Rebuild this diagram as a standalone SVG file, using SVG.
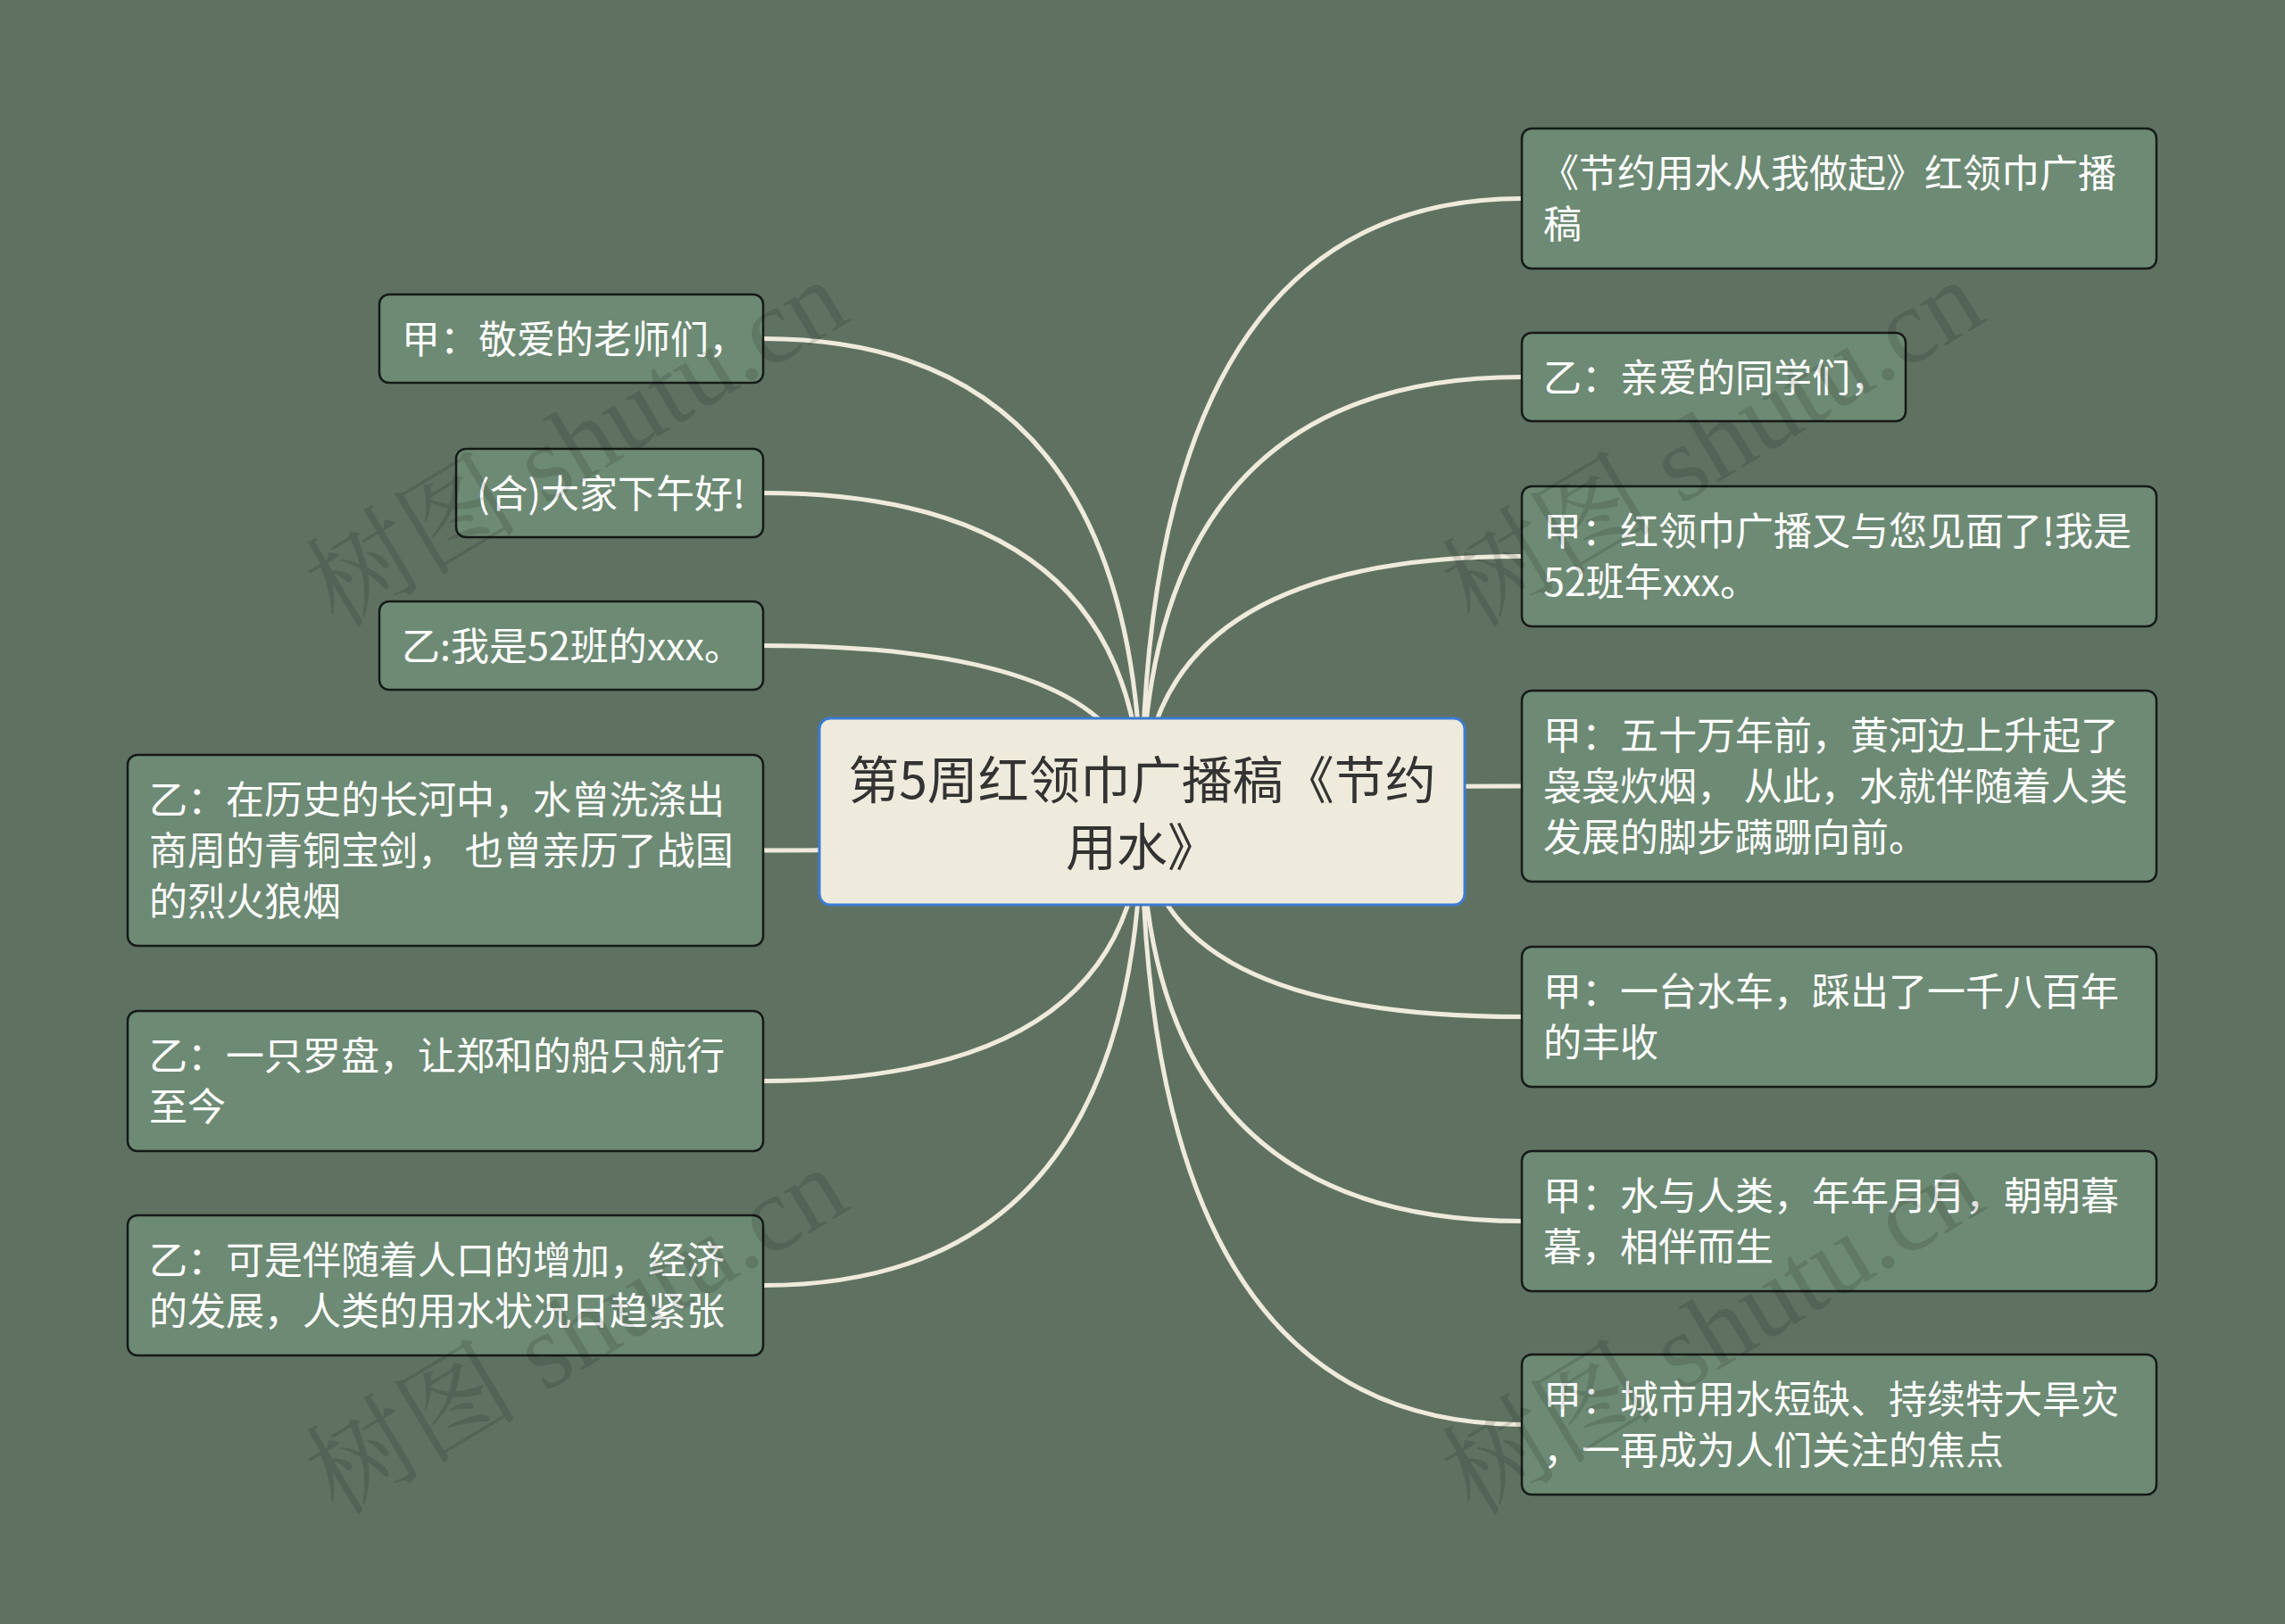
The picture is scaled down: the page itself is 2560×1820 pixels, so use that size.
<svg xmlns="http://www.w3.org/2000/svg" width="2560" height="1820" viewBox="0 0 2560 1820">
<style>
.bg{fill:#5f7262}
.n{fill:#6d8a74;stroke:#161a17;stroke-width:2.5}
.c{fill:#efebdc;stroke:#3d7ad2;stroke-width:3}
.t{font-family:"Noto Sans CJK SC","Noto Sans",sans-serif;font-size:43px;fill:#ffffff}
.ct{font-family:"Noto Sans CJK SC","Noto Sans",sans-serif;font-size:57px;fill:#333333;text-anchor:middle}
.e{fill:none;stroke:#efeadb;stroke-width:5;stroke-linecap:round}
.wm{font-family:"Liberation Serif","Noto Serif CJK SC","Noto Sans CJK SC",serif;font-size:120px;fill:#000000;fill-opacity:0.12}
</style>
<rect class="bg" x="0" y="0" width="2560" height="1820"/>
<g id="connectors">
<path class="e" d="M1279 910 Q1279 379.5 855 379.5"/>
<path class="e" d="M1279 910 Q1279 552.5 855 552.5"/>
<path class="e" d="M1279 910 Q1279 723.5 855 723.5"/>
<path class="e" d="M1279 910 Q1279 953 855 953"/>
<path class="e" d="M1279 910 Q1279 1211.5 855 1211.5"/>
<path class="e" d="M1279 910 Q1279 1440.5 855 1440.5"/>
<path class="e" d="M1279 910 Q1279 222.5 1705 222.5"/>
<path class="e" d="M1279 910 Q1279 422.5 1705 422.5"/>
<path class="e" d="M1279 910 Q1279 623.5 1705 623.5"/>
<path class="e" d="M1279 910 Q1279 881 1705 881"/>
<path class="e" d="M1279 910 Q1279 1139.5 1705 1139.5"/>
<path class="e" d="M1279 910 Q1279 1368.5 1705 1368.5"/>
<path class="e" d="M1279 910 Q1279 1596.5 1705 1596.5"/>
</g>
<g id="center">
<rect class="c" x="918" y="805" width="723" height="209" rx="12"/>
<text class="ct"><tspan x="1279.5" y="895">第5周红领巾广播稿《节约</tspan><tspan x="1279.5" y="970">用水》</tspan></text>
</g>
<g id="L1">
<rect class="n" x="425" y="330" width="430" height="99" rx="11"/>
<text class="t" x="450" y="396">甲：敬爱的老师们，</text>
</g>
<g id="L2">
<rect class="n" x="511" y="503" width="344" height="99" rx="11"/>
<text class="t" x="534" y="569">(合)大家下午好!</text>
</g>
<g id="L3">
<rect class="n" x="425" y="674" width="430" height="99" rx="11"/>
<text class="t" x="450" y="740">乙:我是52班的xxx。</text>
</g>
<g id="L4">
<rect class="n" x="143" y="846" width="712" height="214" rx="11"/>
<text class="t" xml:space="preserve"><tspan x="167" y="912">乙：在历史的长河中，水曾洗涤出</tspan><tspan x="167" y="969">商周的青铜宝剑， 也曾亲历了战国</tspan><tspan x="167" y="1026">的烈火狼烟</tspan></text>
</g>
<g id="L5">
<rect class="n" x="143" y="1133" width="712" height="157" rx="11"/>
<text class="t"><tspan x="167" y="1199">乙：一只罗盘，让郑和的船只航行</tspan><tspan x="167" y="1256">至今</tspan></text>
</g>
<g id="L6">
<rect class="n" x="143" y="1362" width="712" height="157" rx="11"/>
<text class="t"><tspan x="167" y="1428">乙：可是伴随着人口的增加，经济</tspan><tspan x="167" y="1485">的发展，人类的用水状况日趋紧张</tspan></text>
</g>
<g id="R1">
<rect class="n" x="1705" y="144" width="711" height="157" rx="11"/>
<text class="t"><tspan x="1726" y="210">《节约用水从我做起》红领巾广播</tspan><tspan x="1729" y="267">稿</tspan></text>
</g>
<g id="R2">
<rect class="n" x="1705" y="373" width="430" height="99" rx="11"/>
<text class="t" x="1729" y="439">乙：亲爱的同学们，</text>
</g>
<g id="R3">
<rect class="n" x="1705" y="545" width="711" height="157" rx="11"/>
<text class="t"><tspan x="1729" y="611">甲：红领巾广播又与您见面了!我是</tspan><tspan x="1729" y="668">52班年xxx。</tspan></text>
</g>
<g id="R4">
<rect class="n" x="1705" y="774" width="711" height="214" rx="11"/>
<text class="t" xml:space="preserve"><tspan x="1729" y="840">甲：五十万年前，黄河边上升起了</tspan><tspan x="1729" y="897">袅袅炊烟， 从此，水就伴随着人类</tspan><tspan x="1729" y="954">发展的脚步蹒跚向前。</tspan></text>
</g>
<g id="R5">
<rect class="n" x="1705" y="1061" width="711" height="157" rx="11"/>
<text class="t"><tspan x="1729" y="1127">甲：一台水车，踩出了一千八百年</tspan><tspan x="1729" y="1184">的丰收</tspan></text>
</g>
<g id="R6">
<rect class="n" x="1705" y="1290" width="711" height="157" rx="11"/>
<text class="t"><tspan x="1729" y="1356">甲：水与人类，年年月月，朝朝暮</tspan><tspan x="1729" y="1413">暮，相伴而生</tspan></text>
</g>
<g id="R7">
<rect class="n" x="1705" y="1518" width="711" height="157" rx="11"/>
<text class="t"><tspan x="1729" y="1584">甲：城市用水短缺、持续特大旱灾</tspan><tspan x="1729" y="1641">，一再成为人们关注的焦点</tspan></text>
</g>
<g id="watermarks">
<text class="wm" x="378" y="705" transform="rotate(-31 378 705)">树图 shutu.cn</text>
<text class="wm" x="1651" y="705" transform="rotate(-31 1651 705)">树图 shutu.cn</text>
<text class="wm" x="378" y="1700" transform="rotate(-31 378 1700)">树图 shutu.cn</text>
<text class="wm" x="1651" y="1700" transform="rotate(-31 1651 1700)">树图 shutu.cn</text>
</g>
</svg>
